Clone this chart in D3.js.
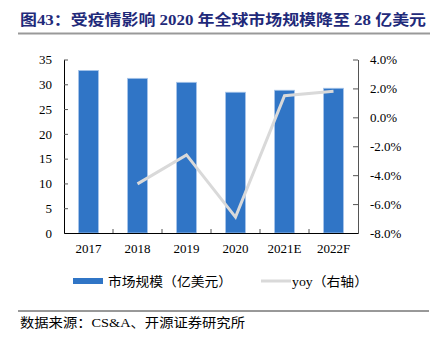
<!DOCTYPE html>
<html><head><meta charset="utf-8">
<script src="https://cdn.jsdelivr.net/npm/d3@7"></script>
<style>body{margin:0;background:#fff}svg{display:block}</style>
</head><body>
<script>
const categories = ["2017","2018","2019","2020","2021E","2022F"];
const marketSize = [32.8, 31.2, 30.4, 28.4, 28.8, 29.2];
const yoy = [null, -4.6, -2.6, -6.9, 1.5, 1.8];
const leftTicks = [0,5,10,15,20,25,30,35];
const rightTicks = [-8,-6,-4,-2,0,2,4];
const titleText = "图43：受疫情影响 2020 年全球市场规模降至 28 亿美元";
const sourceText = "数据来源：CS&A、开源证券研究所";
const legendBar = "市场规模（亿美元）";
const legendLine = "yoy（右轴）";

const W=441,H=341;
const serif = "'Liberation Serif','Times New Roman','Noto Sans CJK SC',serif";
const svg = d3.select("body").append("svg").attr("width",W).attr("height",H);

// title
svg.append("text").attr("x",20).attr("y",25).text(titleText)
  .attr("font-family",serif).attr("font-weight","bold").attr("font-size",15)
  .attr("fill","#1f2a7a").attr("textLength",406).attr("lengthAdjust","spacingAndGlyphs");
svg.append("line").attr("x1",18).attr("x2",430).attr("y1",33.5).attr("y2",33.5)
  .attr("stroke","#999").attr("stroke-width",2);

const L=64,R=358,T=59.5,B=233;
const x = d3.scaleBand().domain(categories).range([L,R]);
const yL = d3.scaleLinear().domain([0,35]).range([B,T]);
const yR = d3.scaleLinear().domain([-8,4]).range([B,T]);
const barW = 20;

svg.append("g").selectAll("rect").data(marketSize).join("rect")
  .attr("x",(d,i)=>x(categories[i])+x.bandwidth()/2-barW/2)
  .attr("y",d=>yL(d)).attr("width",barW).attr("height",d=>B-yL(d))
  .attr("fill","#3075c6").attr("stroke","#a9c6ea").attr("stroke-width",0.8);

// left axis
const gl = svg.append("g").attr("transform",`translate(${L},0)`)
  .call(d3.axisLeft(yL).tickValues(leftTicks).tickSizeInner(-4).tickSizeOuter(0).tickPadding(12));
gl.select(".domain").attr("stroke","#000");
gl.selectAll(".tick line").attr("stroke","#555");
gl.selectAll("text").attr("font-family",serif).attr("font-size",13).attr("fill","#000");

// right axis
const gr = svg.append("g").attr("transform",`translate(${R},0)`)
  .call(d3.axisRight(yR).tickValues(rightTicks).tickSizeInner(-5).tickSizeOuter(0).tickPadding(12)
    .tickFormat(d=>d.toFixed(1)+"%"));
gr.select(".domain").attr("stroke","#555");
gr.selectAll(".tick line").attr("stroke","#555");
gr.selectAll("text").attr("font-family",serif).attr("font-size",13).attr("fill","#000");

// bottom axis
const gb = svg.append("g").attr("transform",`translate(0,${B})`)
  .call(d3.axisBottom(x).tickSize(0).tickPadding(11));
gb.select(".domain").attr("stroke","#000").attr("stroke-width",1.2);
gb.selectAll("text").attr("font-family",serif).attr("font-size",13).attr("fill","#000");
svg.append("g").selectAll("line").data(categories.slice(1)).join("line")
  .attr("x1",d=>x(d)).attr("x2",d=>x(d)).attr("y1",B).attr("y2",B-4).attr("stroke","#555");

// yoy line
const line = d3.line().defined(d=>d!=null)
  .x((d,i)=>x(categories[i])+x.bandwidth()/2).y(d=>yR(d));
svg.append("path").datum(yoy).attr("d",line).attr("fill","none")
  .attr("stroke","#d9d9d9").attr("stroke-width",3);

// legend
svg.append("rect").attr("x",73).attr("y",278).attr("width",30).attr("height",6).attr("fill","#3075c6");
svg.append("text").attr("x",108).attr("y",286).text(legendBar)
  .attr("font-family",serif).attr("font-size",13).attr("fill","#000")
  .attr("textLength",124).attr("lengthAdjust","spacingAndGlyphs");
svg.append("line").attr("x1",261).attr("x2",291).attr("y1",281).attr("y2",281)
  .attr("stroke","#d9d9d9").attr("stroke-width",3);
svg.append("text").attr("x",292).attr("y",286).text(legendLine)
  .attr("font-family",serif).attr("font-size",13).attr("fill","#000")
  .attr("textLength",76).attr("lengthAdjust","spacingAndGlyphs");

// source
svg.append("line").attr("x1",18).attr("x2",429).attr("y1",311).attr("y2",311)
  .attr("stroke","#333").attr("stroke-width",1);
svg.append("text").attr("x",20).attr("y",327).text(sourceText)
  .attr("font-family",serif).attr("font-size",13).attr("fill","#000")
  .attr("textLength",225).attr("lengthAdjust","spacingAndGlyphs");
</script>
</body></html>
